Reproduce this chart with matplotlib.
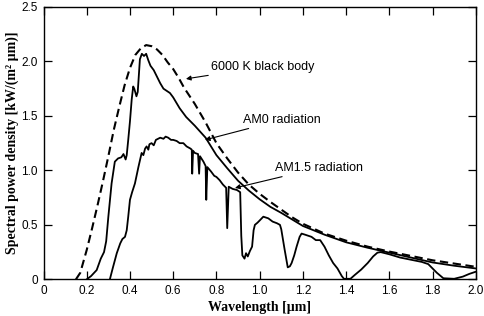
import matplotlib
matplotlib.use("Agg")
import matplotlib.pyplot as plt

# 6000 K black body (dashed)
bb_x = [0.15, 0.17, 0.20, 0.225, 0.25, 0.275, 0.30, 0.325, 0.35, 0.375, 0.40, 0.425,
        0.45, 0.475, 0.50, 0.525, 0.55, 0.575, 0.60, 0.625, 0.65, 0.70, 0.75, 0.80,
        0.85, 0.90, 0.95, 1.00, 1.05, 1.10, 1.15, 1.20, 1.30, 1.40, 1.50, 1.60, 1.70,
        1.80, 1.90, 2.00]
bb_y = [0.00, 0.06, 0.27, 0.47, 0.68, 0.90, 1.13, 1.37, 1.58, 1.78, 1.94, 2.06,
        2.12, 2.15, 2.14, 2.11, 2.06, 1.99, 1.93, 1.85, 1.76, 1.61, 1.44, 1.25,
        1.11, 0.98, 0.87, 0.785, 0.71, 0.64, 0.57, 0.51, 0.42, 0.355, 0.30, 0.255, 0.215,
        0.175, 0.145, 0.115]

# AM0 radiation
am0_x = [0.20, 0.22, 0.246, 0.265, 0.28, 0.29, 0.30, 0.315, 0.33, 0.345, 0.36, 0.37,
         0.38, 0.385, 0.392, 0.40, 0.408, 0.415, 0.42, 0.43, 0.436, 0.446, 0.455, 0.465,
         0.475, 0.485, 0.495, 0.51, 0.525, 0.54, 0.555, 0.57, 0.585, 0.60, 0.63, 0.66,
         0.70, 0.75, 0.80, 0.85, 0.90, 0.95, 1.00, 1.05, 1.10, 1.20, 1.30, 1.40, 1.50,
         1.60, 1.70, 1.80, 1.90, 2.00]
am0_y = [0.00, 0.03, 0.085, 0.19, 0.25, 0.35, 0.575, 0.88, 1.08, 1.11, 1.12, 1.15,
         1.10, 1.14, 1.28, 1.45, 1.65, 1.77, 1.75, 1.68, 1.72, 2.02, 2.07, 2.05,
         2.07, 2.01, 1.96, 1.92, 1.86, 1.80, 1.75, 1.73, 1.71, 1.67, 1.57, 1.49,
         1.41, 1.30, 1.14, 1.02, 0.905, 0.815, 0.735, 0.665, 0.61, 0.49, 0.41, 0.34, 0.29,
         0.245, 0.20, 0.155, 0.125, 0.10]

# AM1.5 radiation
am15_x = [0.307, 0.32, 0.339, 0.355, 0.365, 0.377, 0.385, 0.392, 0.40, 0.41, 0.423, 0.439,
          0.454, 0.462, 0.47, 0.477, 0.485, 0.49, 0.50, 0.51, 0.52, 0.53, 0.54, 0.555,
          0.565, 0.577, 0.59, 0.60, 0.616, 0.63, 0.647, 0.662, 0.68, 0.686, 0.688, 0.692,
          0.70, 0.715, 0.72, 0.724, 0.74, 0.75, 0.753, 0.758, 0.775, 0.79, 0.80, 0.815,
          0.83, 0.845, 0.85, 0.857, 0.875, 0.895, 0.91, 0.915, 0.92, 0.93, 0.937, 0.945,
          0.955, 0.965, 0.972, 0.978, 0.99, 1.00, 1.017, 1.04, 1.06, 1.08, 1.094, 1.10,
          1.115, 1.13, 1.14, 1.148, 1.16, 1.171, 1.185, 1.194, 1.21, 1.225, 1.24, 1.26,
          1.28, 1.30, 1.32, 1.34, 1.36, 1.38, 1.39, 1.42, 1.44, 1.47, 1.50, 1.525,
          1.545, 1.56, 1.60, 1.65, 1.70, 1.75, 1.78, 1.80, 1.82, 1.85, 1.90, 1.94,
          1.97, 2.00]
am15_y = [0.00, 0.10, 0.24, 0.33, 0.37, 0.39, 0.45, 0.575, 0.73, 0.80, 0.88, 1.03,
          1.16, 1.14, 1.20, 1.22, 1.19, 1.24, 1.25, 1.23, 1.28, 1.29, 1.30, 1.29,
          1.31, 1.30, 1.28, 1.28, 1.27, 1.25, 1.25, 1.22, 1.20, 1.19, 0.97, 1.18,
          1.16, 1.15, 0.97, 1.13, 1.08, 1.04, 0.73, 1.03, 0.99, 0.95, 0.94, 0.91,
          0.87, 0.84, 0.47, 0.85, 0.83, 0.82, 0.80, 0.40, 0.22, 0.19, 0.24, 0.21,
          0.26, 0.30, 0.45, 0.50, 0.52, 0.54, 0.575, 0.56, 0.53, 0.515, 0.50, 0.46,
          0.28, 0.11, 0.12, 0.15, 0.22, 0.30, 0.39, 0.42, 0.41, 0.40, 0.39, 0.36,
          0.36, 0.30, 0.22, 0.15, 0.10, 0.03, 0.005, 0.005, 0.04, 0.09, 0.15, 0.21,
          0.245, 0.25, 0.23, 0.20, 0.18, 0.16, 0.14, 0.10, 0.06, 0.01, 0.005, 0.025,
          0.05, 0.07]

x_ticks = [0, 0.2, 0.4, 0.6, 0.8, 1.0, 1.2, 1.4, 1.6, 1.8, 2.0]
x_labels = ["0", "0.2", "0.4", "0.6", "0.8", "1.0", "1.2", "1.4", "1.6", "1.8", "2.0"]
y_ticks = [0, 0.5, 1.0, 1.5, 2.0, 2.5]
y_labels = ["0", "0.5", "1.0", "1.5", "2.0", "2.5"]

fig = plt.figure(figsize=(4.85, 3.16), dpi=100)
ax = fig.add_axes([0.0897, 0.116, 0.8913, 0.862])

ax.plot(bb_x, bb_y, color="black", lw=1.5, linestyle=(0, (4, 2.2)))
ax.plot(am0_x, am0_y, color="black", lw=1.3)
ax.plot(am15_x, am15_y, color="black", lw=1.3)

ax.set_xlim(0, 2.0)
ax.set_ylim(0, 2.5)
ax.set_xticks(x_ticks)
ax.set_xticklabels(x_labels)
ax.set_yticks(y_ticks)
ax.set_yticklabels(y_labels)
ax.tick_params(direction="in", length=6, width=0.9, top=True, right=True,
               labelsize=8.5, pad=4)
for lab in ax.get_xticklabels() + ax.get_yticklabels():
    lab.set_family("Liberation Sans")
for sp in ax.spines.values():
    sp.set_linewidth(1.0)

ax.set_xlabel("Wavelength [µm]", family="Liberation Serif", fontweight="bold",
              fontsize=10, labelpad=3)
ax.set_ylabel("Spectral power density [kW/(m² µm)]", family="Liberation Serif",
              fontweight="bold", fontsize=10, labelpad=2)

arrow = dict(arrowstyle="-|>", color="black", lw=0.8, mutation_scale=7,
             shrinkA=0, shrinkB=0)
ax.annotate("6000 K black body", xy=(0.659, 1.84), xytext=(0.775, 1.95),
            fontsize=9, family="Liberation Sans", va="center", arrowprops=arrow)
ax.annotate("AM0 radiation", xy=(0.747, 1.28), xytext=(0.925, 1.465),
            fontsize=9, family="Liberation Sans", va="center", arrowprops=arrow)
ax.annotate("AM1.5 radiation", xy=(0.886, 0.839), xytext=(1.07, 1.023),
            fontsize=9, family="Liberation Sans", va="center", arrowprops=arrow)

fig.savefig("out.png", dpi=100)
